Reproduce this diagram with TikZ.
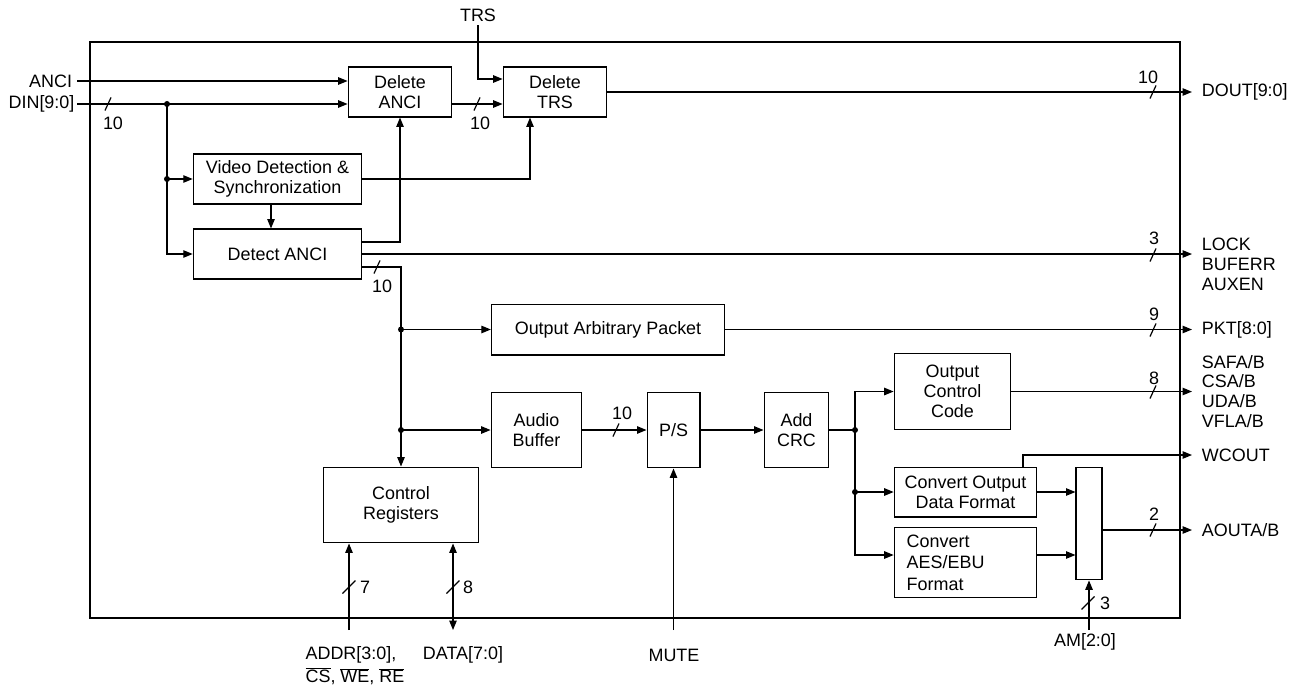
\documentclass[tikz,border=0pt]{standalone}
\usepackage{fontspec}
\setmainfont{Liberation Sans}
\usetikzlibrary{arrows.meta}
\begin{document}
\begin{tikzpicture}[x=1bp,y=-1bp,line width=1.2pt,
    >={Triangle[length=9.5pt,width=7.5pt]},
    font=\fontsize{18}{20}\selectfont,
    blk/.style={draw,align=center,inner sep=1pt},
    lbl/.style={inner sep=2pt},
    outlbl/.style={anchor=west,align=left,inner sep=2pt,outer sep=8pt}]
\useasboundingbox (0,0) rectangle (1304,695);
% frame
\draw (90,42) rectangle (1180,618);
% blocks
\node[blk,minimum width=104,minimum height=50] (delanci) at (400,92) {Delete\\ANCI};
\node[blk,minimum width=104,minimum height=50] (deltrs) at (555,92) {Delete\\TRS};
\node[blk,minimum width=169,minimum height=50] (vidsync) at (277.5,179) {Video Detection \&\\Synchronization};
\node[blk,minimum width=169,minimum height=50] (detanci) at (277.5,254) {Detect ANCI};
\node[blk,minimum width=234,minimum height=51] (arbpkt) at (608,329.5) {Output Arbitrary Packet};
\node[blk,minimum width=91,minimum height=76] (audbuf) at (536.5,430) {Audio\\Buffer};
\node[blk,minimum width=53,minimum height=76] (ps) at (673.5,430) {P/S};
\node[blk,minimum width=65,minimum height=76] (crc) at (796.5,430) {Add\\CRC};
\node[blk,minimum width=156,minimum height=76] (ctrlreg) at (401,505) {Control\\Registers};
\node[blk,minimum width=117,minimum height=77] (occ) at (952.5,391.5) {Output\\Control\\Code};
\node[blk,minimum width=143,minimum height=50] (cvtfmt) at (965.5,492) {Convert Output\\Data Format};
\node[blk,align=left,text width=118,inner xsep=12.5pt,minimum height=71,
      font=\fontsize{18}{21.5}\selectfont] (cvtaes) at (965.5,562.5) {Convert\\AES/EBU\\Format};
\node[blk,minimum width=26,minimum height=113] (mux) at (1089,523.5) {};
% pin labels
\node[lbl,anchor=east,outer sep=3pt] (anci) at (77,81) {ANCI};
\node[lbl,anchor=east] (din) at (77,104) {DIN[9:0]};
\node (trs) at (478,15) {TRS};
\node[outlbl] (dout) at (1192,92) {DOUT[9:0]};
\node[outlbl] (lock) at (1192,264) {LOCK\\BUFERR\\AUXEN};
\node[outlbl] (pkt) at (1192,330) {PKT[8:0]};
\node[outlbl] (safa) at (1192,391.5) {SAFA/B\\CSA/B\\UDA/B\\VFLA/B};
\node[outlbl] (wcout) at (1192,455) {WCOUT};
\node[outlbl] (aouta) at (1192,530) {AOUTA/B};
\node[lbl,anchor=north west,align=left,font=\fontsize{18}{23}\selectfont] (addr) at (303,644)
  {ADDR[3:0],\\$\overline{\hbox{CS}}$, $\overline{\hbox{WE}}$, $\overline{\hbox{RE}}$};
\node[lbl] (data) at (463,655) {DATA[7:0]};
\node[lbl] (mute) at (674,655) {MUTE};
\node[lbl] (am) at (1085,642) {AM[2:0]};
% junctions and pin ends
\coordinate (j1) at (167,104);
\coordinate (j2) at (j1 |- vidsync.west);
\coordinate (b1) at (ctrlreg.north |- arbpkt.west);
\coordinate (b2) at (ctrlreg.north |- audbuf.west);
\coordinate (c1) at (855,430);
\coordinate (c2) at (c1 |- cvtfmt.west);
\coordinate (paddr) at (349,630);
\coordinate (pdata) at (453,630);
\coordinate (pmute) at (ps.south |- 0,630);
\coordinate (pam) at (mux.south |- 0,630);
% connections
\draw[->] (anci.east) -- (anci.east -| delanci.west);
\draw[->] (din.east) -- (din.east -| delanci.west);
\draw[->] (j1) |- (detanci.west);
\draw[->] (j2) -- (vidsync.west);
\draw[->] (271,0 |- vidsync.south) -- (271,0 |- detanci.north);
\draw[->] (trs.south) |- (deltrs.west |- 0,79);
\draw[->] (delanci.east |- 0,104) -- (deltrs.west |- 0,104);
\draw[->] (vidsync.east) -| (530,0 |- deltrs.south);
\draw[->] (detanci.east |- 0,242) -| (delanci.south);
\draw[->] (detanci.east |- 0,267) -| (ctrlreg.north);
\draw[->] (deltrs.east) -- (dout.west);
\draw[->] (detanci.east) -- (detanci.east -| lock.west);
\draw[->] (b1) -- (arbpkt.west);
\draw[->] (b2) -- (audbuf.west);
\draw[->] (arbpkt.east) -- (arbpkt.east -| pkt.west);
\draw[->] (audbuf.east) -- (ps.west);
\draw[->] (ps.east) -- (crc.west);
\draw (crc.east) -- (c1);
\draw[->] (c1) |- (occ.west);
\draw[->] (c1) |- (cvtaes.west |- 0,555);
\draw[->] (c2) -- (cvtfmt.west);
\draw[->] (occ.east) -- (occ.east -| safa.west);
\draw[->] (cvtfmt.east) -- (cvtfmt.east -| mux.west);
\draw[->] (cvtaes.east |- 0,555) -- (mux.west |- 0,555);
\draw[->] (1023,0 |- cvtfmt.north) |- (wcout.west);
\draw[->] (mux.east |- aouta.west) -- (aouta.west);
\draw[->] (paddr) -- (paddr |- ctrlreg.south);
\draw[<->] (pdata) -- (pdata |- ctrlreg.south);
\draw[->] (pmute) -- (ps.south);
\draw[->] (pam) -- (mux.south);
% dots
\foreach \p in {j1,j2,b1,b2,c1,c2}
  \fill (\p) circle (3);
% bus widths
\foreach \x/\y in {108/104,477/104,377/267,616/430,1153/92,1153/255,1153/330,1153/392,1153/530}
  \draw (\x-3,\y+6.5) -- (\x+3,\y-6.5);
\foreach \x/\y in {349/587,453/587,1088/603}
  \draw (\x-6.5,\y+6.5) -- (\x+6.5,\y-6.5);
\foreach \x/\y/\n [count=\i] in {113/123/10,480/123/10,382/286/10,622/413/10,1148/77/10,
    1154/238/3,1154/314/9,1154/378/8,1154/514/2,365/587/7,468/587/8,1105/603/3}
  \node[lbl] (w\i) at (\x,\y) {\n};
\end{tikzpicture}
\end{document}
